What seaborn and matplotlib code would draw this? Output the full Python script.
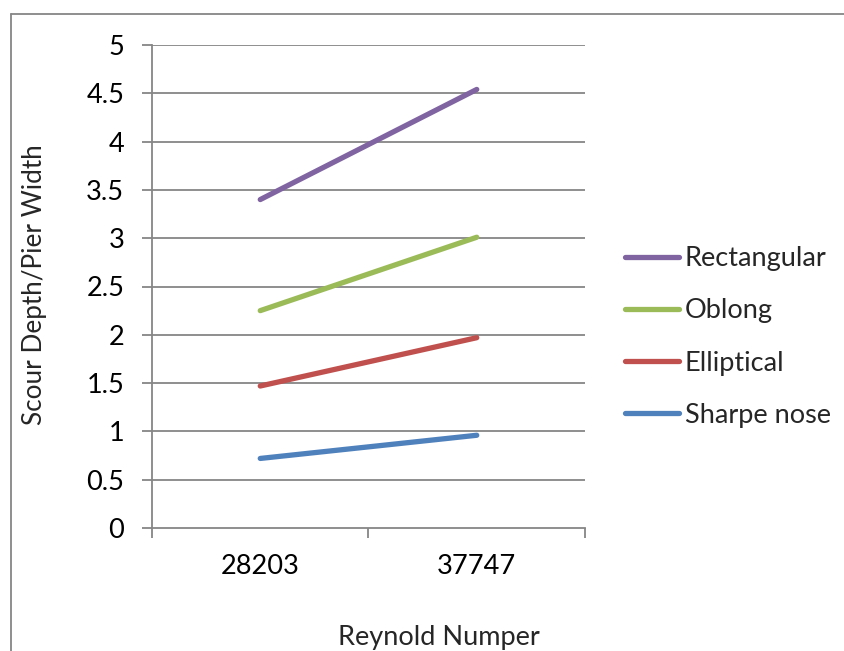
import matplotlib
matplotlib.use("Agg")
import matplotlib.pyplot as plt
from matplotlib.lines import Line2D
import seaborn as sns
import pandas as pd

reynolds = ["28203", "37747"]
series_names = ["Rectangular", "Oblong", "Elliptical", "Sharpe nose"]
rectangular = [3.40, 4.54]
oblong = [2.25, 3.01]
elliptical = [1.47, 1.97]
sharpe_nose = [0.72, 0.96]
colors = ["#8064A2", "#9BBB59", "#C0504D", "#4F81BD"]
y_ticks = [0, 0.5, 1, 1.5, 2, 2.5, 3, 3.5, 4, 4.5, 5]
y_tick_labels = ["0", "0.5", "1", "1.5", "2", "2.5", "3", "3.5", "4", "4.5", "5"]

rows = []
for name, vals in zip(series_names, [rectangular, oblong, elliptical, sharpe_nose]):
    for i, (r, v) in enumerate(zip(reynolds, vals)):
        rows.append({"pos": i, "Reynold": r, "value": v, "shape": name})
df = pd.DataFrame(rows)

sns.set_theme(style="white")
plt.rcParams["font.family"] = ["Lato", "DejaVu Sans"]

FS = 19.5
W, H = 845, 651
fig = plt.figure(figsize=(W / 100, H / 100), dpi=100)
ax = fig.add_axes([152 / W, 1 - 528 / H, (585 - 152) / W, (528 - 45) / H])

sns.lineplot(data=df, x="pos", y="value", hue="shape", hue_order=series_names,
             palette=colors, linewidth=3.8, ax=ax, legend=False,
             solid_capstyle="round")

ax.set_xlim(-0.5, 1.5)
ax.set_ylim(0, 5)
grid_col = "#868686"
for y in y_ticks[1:]:
    ax.axhline(y, color=grid_col, linewidth=1.3, zorder=0)
ax.set_yticks(y_ticks)
ax.set_yticklabels(y_tick_labels)
ax.set_xticks([-0.5, 0.5, 1.5])
ax.set_xticklabels(["", "", ""])
ax.set_xticks([0, 1], minor=True)
ax.set_xticklabels(reynolds, minor=True)
ax.tick_params(axis="x", which="major", direction="out", length=7, width=1.3,
               color=grid_col, bottom=True)
ax.tick_params(axis="x", which="minor", length=0, pad=19, labelsize=FS, colors="black")
ax.tick_params(axis="y", direction="out", length=7, width=1.3, color=grid_col,
               left=True, pad=13, labelsize=FS, labelcolor="black")
for s in ["top", "right"]:
    ax.spines[s].set_visible(False)
for s in ["left", "bottom"]:
    ax.spines[s].set_color(grid_col)
    ax.spines[s].set_linewidth(1.3)
ax.set_xlabel("")
ax.set_ylabel("")

fig.text(35 / W, 1 - 285 / H, "Scour Depth/Pier Width", rotation=90, ha="center",
         va="center", fontsize=18.8)

handles = [Line2D([0], [0], color=c, linewidth=3.8, solid_capstyle="round") for c in colors]
fig.legend(handles, series_names, loc="center left", bbox_to_anchor=(625 / W, 1 - 337 / H),
           frameon=False, fontsize=FS, handlelength=2.0, handletextpad=0.2,
           labelspacing=1.0, borderpad=0, borderaxespad=0)

fig.text(439 / W, 1 - 638 / H, "Reynold Numper", ha="center", va="center", fontsize=FS)

# outer chart border
fig.add_artist(Line2D([11 / W, 11 / W], [0, 1 - 14 / H], transform=fig.transFigure,
                      color=grid_col, linewidth=1.3))
fig.add_artist(Line2D([11 / W, 1], [1 - 14 / H, 1 - 14 / H], transform=fig.transFigure,
                      color=grid_col, linewidth=1.3))

fig.savefig("out.png", dpi=100)
